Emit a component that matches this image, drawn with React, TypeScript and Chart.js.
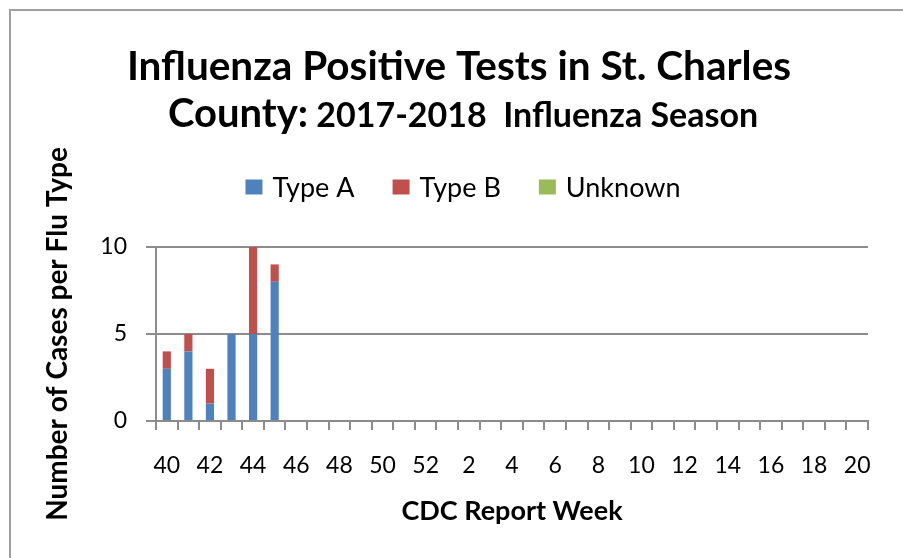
import { useEffect, useRef } from "react";
import { Chart, registerables } from "chart.js";

Chart.register(...registerables);

const weeks = [40, 41, 42, 43, 44, 45, 46, 47, 48, 49, 50, 51, 52, 1, 2, 3, 4, 5, 6, 7, 8, 9, 10, 11, 12, 13, 14, 15, 16, 17, 18, 19, 20];
const typeA = [3, 4, 1, 5, 5, 8, null, null, null, null, null, null, null, null, null, null, null, null, null, null, null, null, null, null, null, null, null, null, null, null, null, null, null];
const typeB = [1, 1, 2, 0, 5, 1, null, null, null, null, null, null, null, null, null, null, null, null, null, null, null, null, null, null, null, null, null, null, null, null, null, null, null];
const unknown = [0, 0, 0, 0, 0, 0, null, null, null, null, null, null, null, null, null, null, null, null, null, null, null, null, null, null, null, null, null, null, null, null, null, null, null];
const seriesNames = ["Type A", "Type B", "Unknown"];
const seriesColors = ["#4F81BD", "#C0504D", "#9BBB59"];
const yTicks = [0, 5, 10];

const titleLine1 = "Influenza Positive Tests in St. Charles";
const titleLine2a = "County:";
const titleLine2b = " 2017-2018  Influenza Season";
const xTitle = "CDC Report Week";
const yTitle = "Number of Cases per Flu Type";

const FONT = "Lato, 'Open Sans', sans-serif";

const headerPlugin = {
  id: "header",
  afterDraw(chart: any) {
    const ctx = chart.ctx;
    ctx.save();
    ctx.fillStyle = "#000";
    ctx.textBaseline = "alphabetic";
    const cx = 459;
    ctx.textAlign = "center";
    ctx.font = `bold 40.5px ${FONT}`;
    ctx.fillText(titleLine1, cx, 80);
    const bigF = `bold 40px ${FONT}`;
    const smallF = `bold 34px ${FONT}`;
    ctx.font = bigF;
    const w1 = ctx.measureText(titleLine2a).width;
    ctx.font = smallF;
    const w2 = ctx.measureText(titleLine2b).width;
    const x = cx + 4 - (w1 + w2) / 2;
    ctx.textAlign = "left";
    ctx.font = bigF;
    ctx.fillText(titleLine2a, x, 127);
    ctx.font = smallF;
    ctx.fillText(titleLine2b, x + w1, 127);

    // legend
    ctx.font = `27px ${FONT}`;
    ctx.textBaseline = "middle";
    const boxW = 17, boxH = 15, gapBox = 10, gapItem = 38;
    const widths = chart.data.datasets.map((d: any) => ctx.measureText(d.label).width);
    const total = widths.reduce((a: number, w: number) => a + boxW + gapBox + w, 0) + gapItem * (widths.length - 1);
    let lx = 463 - total / 2;
    const ly = 187;
    chart.data.datasets.forEach((d: any, i: number) => {
      ctx.fillStyle = d.backgroundColor;
      ctx.fillRect(lx, ly - boxH / 2, boxW, boxH);
      ctx.fillStyle = "#000";
      ctx.fillText(d.label, lx + boxW + gapBox, ly + 1);
      lx += boxW + gapBox + widths[i] + gapItem;
    });
    ctx.restore();
  },
};

export default function App() {
  const ref = useRef<HTMLCanvasElement>(null);
  useEffect(() => {
    if (!ref.current) return;
    const chart = new Chart(ref.current, {
      type: "bar",
      data: {
        labels: weeks.map(String),
        datasets: [
          { label: seriesNames[0], data: typeA, backgroundColor: seriesColors[0] },
          { label: seriesNames[1], data: typeB, backgroundColor: seriesColors[1] },
          { label: seriesNames[2], data: unknown, backgroundColor: seriesColors[2] },
        ],
      },
      options: {
        responsive: false,
        animation: false,
        layout: { padding: { top: 247, right: 35, left: 0, bottom: 0 } },
        plugins: {
          legend: { display: false },
          title: { display: false },
          tooltip: { enabled: false },
        },
        datasets: { bar: { categoryPercentage: 1, barPercentage: 0.38 } },
        scales: {
          x: {
            stacked: true,
            offset: true,
            afterFit(scale: any) { scale.height = 137; },
            grid: {
              offset: true,
              drawOnChartArea: false,
              drawTicks: true,
              tickLength: 9,
              color: "#8c8c8c",
              lineWidth: 2,
            },
            border: { display: true, color: "#8c8c8c", width: 2 },
            ticks: {
              autoSkip: false,
              maxRotation: 0,
              minRotation: 0,
              color: "#000",
              padding: 22,
              font: { family: FONT, size: 23 },
              callback: (_v: any, i: number) => (i % 2 === 0 ? String(weeks[i]) : ""),
            },
            title: {
              display: true,
              text: xTitle,
              color: "#000",
              font: { family: FONT, size: 27, weight: "bold" },
              padding: { top: 0, bottom: 31 },
            },
          },
          y: {
            stacked: true,
            min: 0,
            max: 10,
            afterFit(scale: any) { scale.width = 156; },
            afterBuildTicks(scale: any) { scale.ticks = yTicks.map((v) => ({ value: v })); },
            grid: {
              color: "#8c8c8c",
              lineWidth: 2,
              drawTicks: true,
              tickLength: 10,
            },
            border: { display: true, color: "#8c8c8c", width: 2 },
            ticks: {
              color: "#000",
              padding: 19,
              font: { family: FONT, size: 23 },
            },
            title: {
              display: true,
              text: yTitle,
              color: "#000",
              font: { family: FONT, size: 28, weight: "bold" },
              padding: { top: 41, bottom: 0 },
            },
          },
        },
      },
      plugins: [headerPlugin],
    });
    return () => chart.destroy();
  }, []);

  return (
    <div style={{ position: "fixed", left: 0, top: 0, width: 903, height: 558, overflow: "hidden", background: "#fff" }}>
      <div style={{ position: "absolute", left: 9, top: 9, width: 1000, height: 1000, border: "2px solid #a0a0a0" }} />
      <canvas ref={ref} width={903} height={558} style={{ position: "absolute", left: 0, top: 0, width: 903, height: 558 }} />
    </div>
  );
}
